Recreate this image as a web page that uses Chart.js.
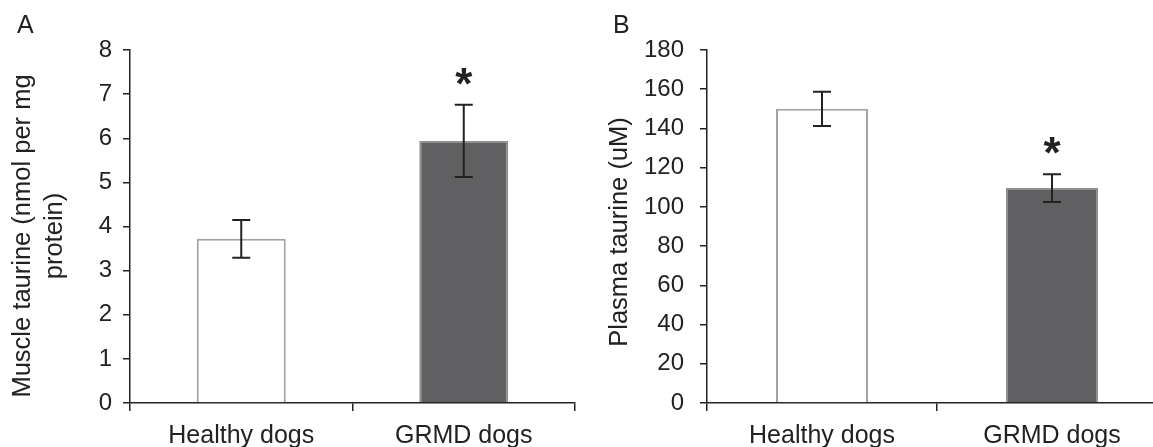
<!DOCTYPE html>
<html lang="en">
<head>
<meta charset="UTF-8">
<title>Taurine in healthy and GRMD dogs</title>
<script src="https://cdn.jsdelivr.net/npm/chart.js"></script>
<style>
    body {
        margin: 0;
        background: #fff;
        width: 1153px;
        height: 447px;
        overflow: hidden;
        position: relative;
    }
    canvas { position: absolute; top: 0; }
    #muscleChart { left: 0; }
    #plasmaChart { left: 590px; }
</style>
</head>
<body>
<canvas id="muscleChart" width="590" height="447"></canvas>
<canvas id="plasmaChart" width="590" height="447"></canvas>

<script>
// Data
const categories = ['Healthy dogs', 'GRMD dogs'];
const muscleTaurine = [3.72, 5.94];
const muscleErr = [0.43, 0.82];
const plasmaTaurine = [150, 109.6];
const plasmaErr = [8.7, 7.1];
const significant = [false, true];
const muscleTicks = [0, 8, 1];     // min, max, step
const plasmaTicks = [0, 180, 20];

const barFill = ['#ffffff', '#606062'];
const barEdge = ['#a2a2a2', '#909090'];
const ink = '#222222';
const fontFamily = '"Liberation Sans", Arial, sans-serif';

// error bars, asterisks, panel letter and y title
const extras = {
    id: 'extras',
    afterDatasetsDraw(chart, args, opts) {
        const ctx = chart.ctx;
        const yScale = chart.scales.y;
        const meta = chart.getDatasetMeta(0);
        ctx.save();
        ctx.strokeStyle = ink;
        ctx.fillStyle = ink;
        ctx.lineWidth = 2;
        meta.data.forEach((bar, i) => {
            const v = opts.values[i], e = opts.errors[i];
            const top = yScale.getPixelForValue(v + e);
            const bot = yScale.getPixelForValue(v - e);
            ctx.beginPath();
            ctx.moveTo(bar.x, top); ctx.lineTo(bar.x, bot);
            ctx.moveTo(bar.x - 9, top); ctx.lineTo(bar.x + 9, top);
            ctx.moveTo(bar.x - 9, bot); ctx.lineTo(bar.x + 9, bot);
            ctx.stroke();
            if (significant[i]) {
                ctx.font = 'bold 44px ' + fontFamily;
                ctx.textAlign = 'center';
                ctx.textBaseline = 'alphabetic';
                ctx.fillText('*', bar.x, top - 6);
            }
        });

        ctx.font = '25px ' + fontFamily;
        ctx.textAlign = 'left';
        ctx.textBaseline = 'alphabetic';
        ctx.fillText(opts.letter, opts.letterX, 33);

        ctx.translate(opts.titleX, opts.titleY);
        ctx.rotate(-Math.PI / 2);
        ctx.textAlign = 'center';
        ctx.textBaseline = 'middle';
        ctx.font = '25.5px ' + fontFamily;
        opts.title.forEach((line, k) => ctx.fillText(line, 0, k * 32));
        ctx.restore();
    }
};

function makeChart(id, values, errors, ticks, axisWidth, padRight, tickPad, letter, letterX, title, titleX, titleY) {
    return new Chart(document.getElementById(id), {
        type: 'bar',
        data: {
            labels: categories,
            datasets: [{
                data: values,
                backgroundColor: barFill,
                borderColor: barEdge,
                borderWidth: 2,
                categoryPercentage: 1,
                barPercentage: 0.4
            }]
        },
        options: {
            responsive: false,
            animation: false,
            devicePixelRatio: 1,
            layout: { padding: { top: 50, right: padRight, left: 0, bottom: 0 } },
            plugins: {
                legend: { display: false },
                tooltip: { enabled: false },
                extras: { values, errors, letter, letterX, title, titleX, titleY }
            },
            scales: {
                x: {
                    afterFit(scale) { scale.height = 44; },
                    grid: { offset: true, drawOnChartArea: false, tickLength: 8, color: ink, lineWidth: 1.5 },
                    border: { color: ink, width: 1.5 },
                    ticks: { color: ink, padding: 10, font: { family: fontFamily, size: 25 } }
                },
                y: {
                    min: ticks[0],
                    max: ticks[1],
                    afterFit(scale) { scale.width = axisWidth; },
                    grid: { drawOnChartArea: false, tickLength: 7, color: ink, lineWidth: 1.5 },
                    border: { color: ink, width: 1.5 },
                    ticks: { stepSize: ticks[2], color: ink, padding: tickPad, font: { family: fontFamily, size: 24 } }
                }
            }
        },
        plugins: [extras]
    });
}

makeChart('muscleChart', muscleTaurine, muscleErr, muscleTicks, 130, 15, 11, 'A', 17,
    ['Muscle taurine (nmol per mg', 'protein)'], 23, 236);
makeChart('plasmaChart', plasmaTaurine, plasmaErr, plasmaTicks, 117, 13, 16, 'B', 23,
    ['Plasma taurine (uM)'], 30, 232);
</script>
</body>
</html>
